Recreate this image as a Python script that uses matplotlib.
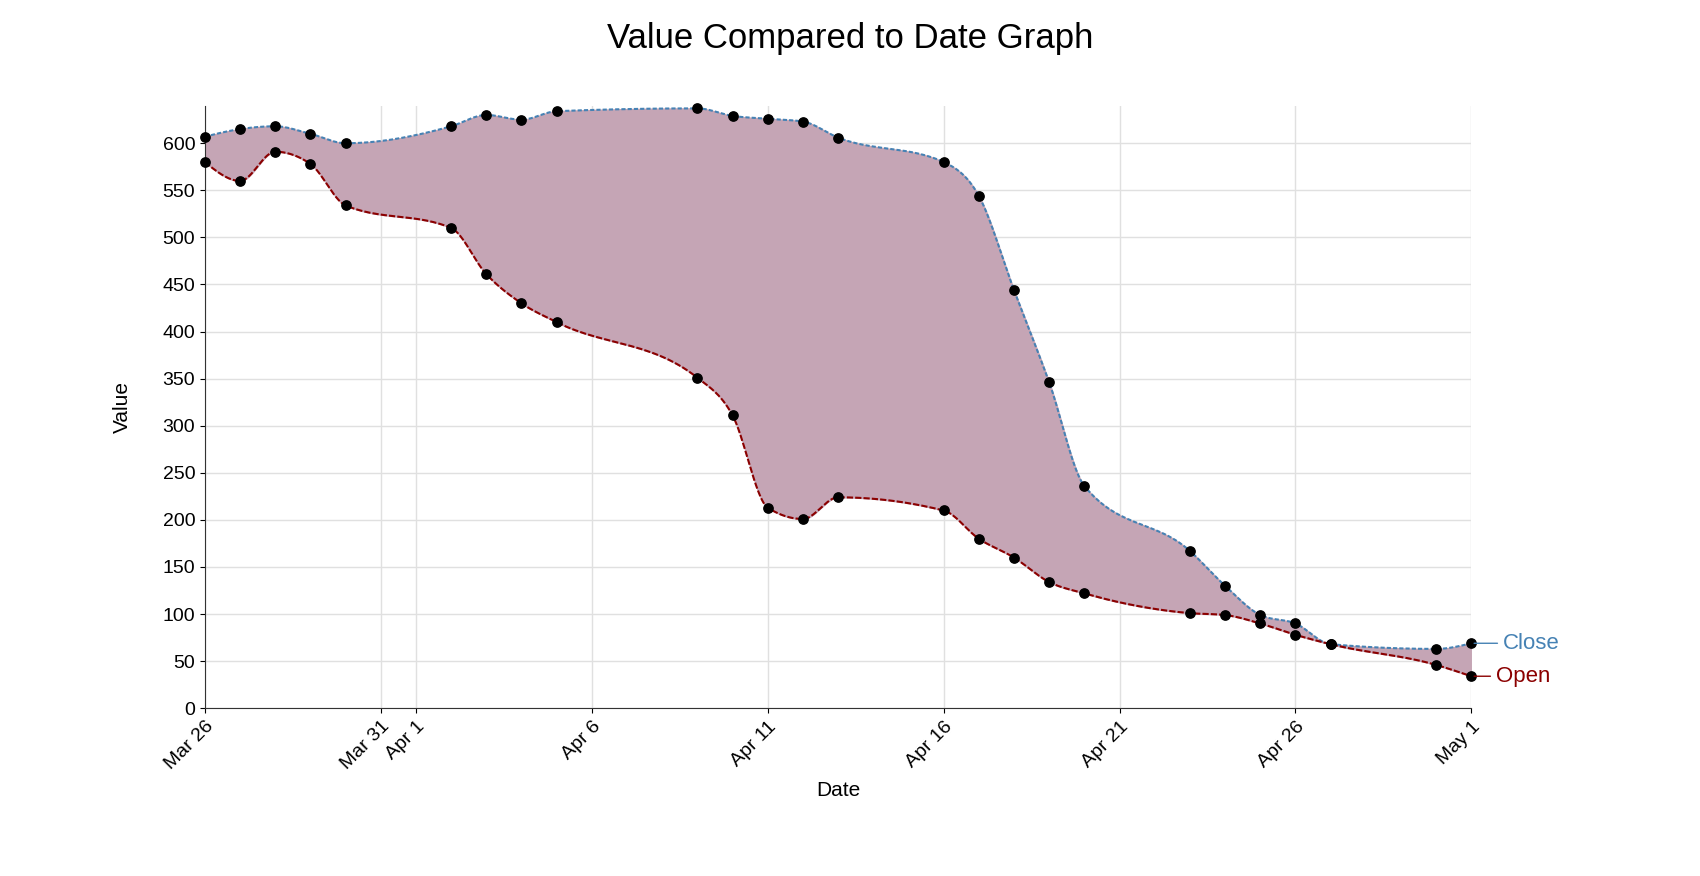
import numpy as np
import matplotlib
matplotlib.use('Agg')
from matplotlib import pyplot as plt

plt.rcParams['font.family'] = ['Liberation Sans', 'DejaVu Sans']

DAYS = [0, 1, 2, 3, 4, 7, 8, 9, 10, 14, 15, 16, 17, 18, 21, 22, 23, 24, 25,
        28, 29, 30, 31, 32, 35, 36]
CLOSE = [607, 615, 618, 610, 600, 618, 630, 625, 634, 637, 629, 626, 623, 606,
         580, 544, 444, 346, 236, 167, 130, 99, 90, 68, 63, 69]
OPEN = [580, 560, 591, 578, 534, 510, 461, 430, 410, 351, 311, 213, 201, 224,
        210, 180, 160, 134, 122, 101, 99, 90, 78, 68, 46, 34]
TICK_DAYS = [0, 5, 6, 11, 16, 21, 26, 31, 36]
TICK_LABELS = ["Mar 26", "Mar 31", "Apr 1", "Apr 6", "Apr 11", "Apr 16",
               "Apr 21", "Apr 26", "May 1"]

COLOR_CLOSE = '#4682b4'
COLOR_OPEN = '#8b0000'
COLOR_FILL = '#c5a5b5'


def monotone(x, y, n=30):
    # monotone cubic (like d3.curveMonotoneX)
    x = np.asarray(x, float)
    y = np.asarray(y, float)
    h = np.diff(x)
    s = np.diff(y) / h
    m = np.zeros_like(y)
    for i in range(1, len(x) - 1):
        if s[i - 1] * s[i] > 0:
            p = (s[i - 1] * h[i] + s[i] * h[i - 1]) / (h[i - 1] + h[i])
            m[i] = np.sign(s[i]) * min(abs(s[i - 1]), abs(s[i]), 0.5 * abs(p)) * 2
    m[0] = (3 * s[0] - m[1]) / 2
    m[-1] = (3 * s[-1] - m[-2]) / 2
    xs, ys = [], []
    for i in range(len(x) - 1):
        t = np.linspace(0, 1, n, endpoint=False)
        h00 = 2 * t**3 - 3 * t**2 + 1
        h10 = t**3 - 2 * t**2 + t
        h01 = -2 * t**3 + 3 * t**2
        h11 = t**3 - t**2
        xs.append(x[i] + t * h[i])
        ys.append(h00 * y[i] + h10 * h[i] * m[i] + h01 * y[i + 1] + h11 * h[i] * m[i + 1])
    xs.append([x[-1]])
    ys.append([y[-1]])
    return np.concatenate(xs), np.concatenate(ys)


fig = plt.figure(figsize=(17, 8.76), dpi=100)
ax = fig.add_axes([0.1205, 0.1915, 0.745, 0.688])

cx, cy = monotone(DAYS, CLOSE)
ox, oy = monotone(DAYS, OPEN)
ax.fill_between(cx, oy, cy, color=COLOR_FILL, zorder=1)
ax.plot(cx, cy, color=COLOR_CLOSE, linewidth=1.5, linestyle=(0, (2, 1)), zorder=2)
ax.plot(ox, oy, color=COLOR_OPEN, linewidth=1.5, linestyle=(0, (3, 1)), zorder=2)
ax.scatter(DAYS, CLOSE, s=45, color='black', zorder=3, clip_on=False)
ax.scatter(DAYS, OPEN, s=45, color='black', zorder=3, clip_on=False)

ax.set_xlim(0, 36)
ax.set_ylim(0, 640)
ax.set_xticks(TICK_DAYS)
ax.set_xticklabels(TICK_LABELS, fontsize=14)
plt.setp(ax.get_xticklabels(), rotation=45, ha='right', rotation_mode='anchor')
ax.set_yticks(range(0, 601, 50))
ax.tick_params(axis='y', labelsize=14)
ax.grid(True, color='#e0e0e0', linewidth=1)
ax.set_axisbelow(True)
for side in ['top', 'right']:
    ax.spines[side].set_visible(False)
for side in ['left', 'bottom']:
    ax.spines[side].set_color('#333333')

ax.annotate("Close", xy=(36, CLOSE[-1]), xytext=(36.9, CLOSE[-1]), color=COLOR_CLOSE,
            fontsize=16, va='center', arrowprops=dict(arrowstyle='-', color=COLOR_CLOSE),
            annotation_clip=False)
ax.annotate("Open", xy=(36, OPEN[-1]), xytext=(36.7, OPEN[-1]), color=COLOR_OPEN,
            fontsize=16, va='center', arrowprops=dict(arrowstyle='-', color=COLOR_OPEN),
            annotation_clip=False)

ax.set_xlabel("Date", fontsize=15, labelpad=6)
ax.set_ylabel("Value", fontsize=15, labelpad=22)
fig.suptitle("Value Compared to Date Graph", fontsize=25, y=0.975)

fig.savefig("out.png")
